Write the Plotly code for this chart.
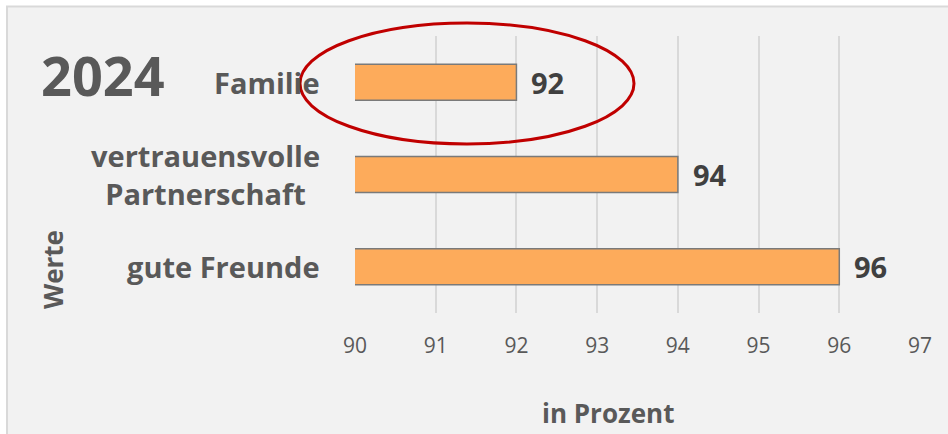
import plotly.graph_objects as go

categories = ["gute Freunde", "vertrauensvolle<br>Partnerschaft", "Familie"]
values = [96, 94, 92]
x_ticks = [90, 91, 92, 93, 94, 95, 96, 97]
title_text = "2024"
x_title = "in Prozent"
y_title = "Werte"

FONT = "Open Sans"
W, H = 948, 434
L, R, T, B = 355, 28, 36, 121
PW, PH = W - L - R, H - T - B


def px(x):
    return (x - L) / PW


def py(y):
    return (H - B - y) / PH


fig = go.Figure()
fig.add_trace(go.Bar(
    x=values, y=categories, orientation="h", width=0.39,
    marker=dict(color="#fdab5b", line=dict(color="#7a7a7a", width=1.5)),
    hoverinfo="skip",
))

annotations = []
for c, v in zip(categories, values):
    annotations.append(dict(x=v, y=c, xref="x", yref="y", text=f"<b>{v}</b>",
                            showarrow=False, xanchor="left", yanchor="middle", xshift=13,
                            font=dict(family=FONT, size=29, color="#404040")))
    annotations.append(dict(x=px(322), y=c, xref="paper", yref="y", text=f"<b>{c}</b>",
                            showarrow=False, xanchor="right", yanchor="middle", align="center",
                            font=dict(family=FONT, size=29, color="#595959")))

annotations += [
    dict(x=px(103), y=py(75), xref="paper", yref="paper", text=f"<b>{title_text}</b>",
         xanchor="center", yanchor="middle",
         showarrow=False, font=dict(family=FONT, size=54, color="#595959")),
    dict(x=px(53), y=py(270), xref="paper", yref="paper", text=f"<b>{y_title}</b>",
         xanchor="center", yanchor="middle",
         showarrow=False, textangle=-90, font=dict(family=FONT, size=26, color="#595959")),
    dict(x=px(608), y=py(413), xref="paper", yref="paper", text=f"<b>{x_title}</b>",
         xanchor="center", yanchor="middle",
         showarrow=False, font=dict(family=FONT, size=26, color="#595959")),
]

shapes = [
    dict(type="rect", xref="paper", yref="paper", x0=px(7), x1=px(W + 5), y0=py(H + 5), y1=py(6.5),
         fillcolor="#f2f2f2", line=dict(color="#d9d9d9", width=2), layer="below"),
    dict(type="circle", xref="paper", yref="paper", x0=px(300), x1=px(634), y0=py(144), y1=py(23),
         line=dict(color="#c00000", width=3)),
]

fig.update_layout(
    width=W, height=H,
    margin=dict(l=L, r=R, t=T, b=B, pad=0),
    paper_bgcolor="white", plot_bgcolor="rgba(0,0,0,0)",
    showlegend=False,
    annotations=annotations, shapes=shapes,
    xaxis=dict(range=[90, 97], tickvals=x_ticks, ticktext=[str(t) for t in x_ticks],
               showgrid=True, gridcolor="#d9d9d9", gridwidth=1.5, zeroline=False,
               showline=False, ticks="", ticklabelstandoff=18,
               tickfont=dict(family=FONT, size=21, color="#595959")),
    yaxis=dict(range=[-0.5, 2.5], showticklabels=False, showgrid=False, zeroline=False,
               showline=False, ticks=""),
)

fig.write_html("out.html", config={"displayModeBar": False},
               post_script="document.body.style.margin='0';document.body.style.overflow='hidden';")
